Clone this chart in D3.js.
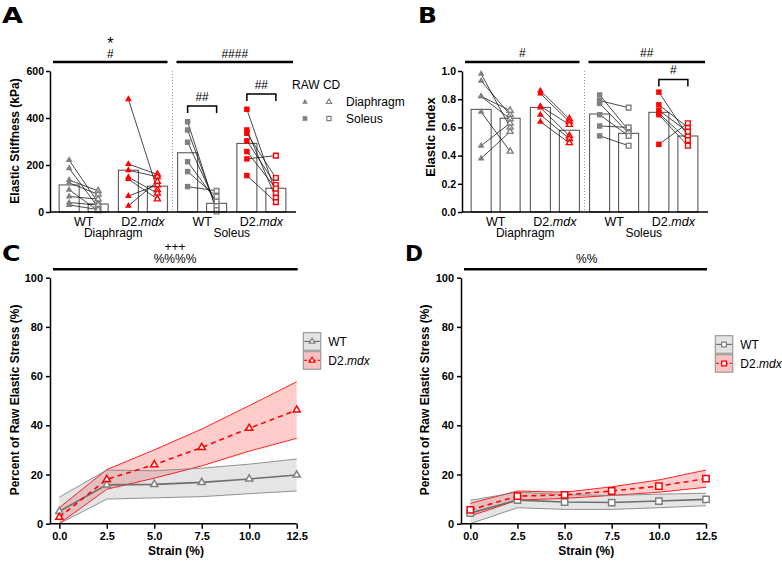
<!DOCTYPE html>
<html>
<head>
<meta charset="utf-8">
<script src="https://cdn.jsdelivr.net/npm/d3@7"></script>
<style>
  body { margin: 0; background: #fff; }
  svg text { font-family: "Liberation Sans", Arial, sans-serif; fill: #000; }
</style>
</head>
<body>
<div id="chart"></div>
<script>
// bar panels (A, B): four groups, each with a RAW and a CD bar
var groups = ["diaWT", "diaD2", "solWT", "solD2"];
var genotypes = ["WT", "D2.mdx", "WT", "D2.mdx"];
var tissues = ["Diaphragm", "Soleus"];
var conditions = ["RAW", "CD"];

// A: elastic stiffness (kPa)
var stiffTicks = [0, 200, 400, 600];
var stiffRawMeans = [115, 178, 252, 292];
var stiffCdMeans = [34, 110, 37, 101];
var stiffRaw = [
  [221, 186, 136, 124, 95, 66, 40, 30],
  [480, 204, 178, 148, 140, 68, 26],
  [384, 349, 297, 214, 172, 108],
  [437, 349, 335, 303, 257, 226, 155]
];
var stiffCd = [
  [40, 20, 90, 75, 5, 55, 30, 10],
  [95, 160, 150, 80, 55, 115, 130],
  [2, 12, 28, 45, 65, 90],
  [80, 60, 145, 115, 100, 240, 42]
];

// B: elastic index
var indexTicks = [0, 0.2, 0.4, 0.6, 0.8, 1.0];
var indexRawMeans = [0.728, 0.742, 0.695, 0.707];
var indexCdMeans = [0.665, 0.58, 0.558, 0.539];
var indexRaw = [
  [0.98, 0.93, 0.82, 0.82, 0.71, 0.47, 0.38],
  [0.86, 0.84, 0.75, 0.74, 0.69, 0.64],
  [0.83, 0.79, 0.77, 0.69, 0.61, 0.54],
  [0.85, 0.76, 0.72, 0.70, 0.69, 0.48]
];
var indexCd = [
  [0.60, 0.69, 0.72, 0.66, 0.43, 0.63, 0.57],
  [0.66, 0.64, 0.62, 0.54, 0.52, 0.49],
  [0.58, 0.74, 0.56, 0.54, 0.60, 0.47],
  [0.54, 0.60, 0.57, 0.51, 0.47, 0.63]
];

// C, D: percent of raw elastic stress vs strain
var strain = [0, 2.5, 5, 7.5, 10, 12.5];
var pctTicks = [0, 20, 40, 60, 80, 100];

var diaWT = [5, 15.8, 16, 16.8, 18.2, 19.8];
var diaWTHi = [10.8, 21.8, 21.5, 22.6, 24.2, 26.3];
var diaWTLo = [0, 10, 10.5, 11, 12.2, 13.3];
var diaD2 = [2.6, 18, 24, 31, 38.8, 46.2];
var diaD2Hi = [6.5, 22, 30, 38.5, 48, 57.7];
var diaD2Lo = [0, 14, 18.5, 23.5, 29.5, 34.7];

var solWT = [4.3, 9.6, 8.8, 8.6, 9.2, 9.9];
var solWTHi = [9.5, 12.8, 11.8, 11.5, 12, 12.4];
var solWTLo = [0, 6.5, 5.8, 5.8, 6.5, 7.3];
var solD2 = [5.6, 11.2, 11.7, 13.3, 15.3, 18.3];
var solD2Hi = [8.3, 13.3, 12.8, 15, 17.8, 21.8];
var solD2Lo = [3.1, 9.6, 10.3, 11.5, 12.8, 14.8];

var grey = "#808080", red = "#ff0000";
var groupColors = [grey, red, grey, red];

var svg = d3.select("#chart").append("svg")
  .attr("width", 782)
  .attr("height", 562);

function mdx(sel, label) {
  if (label === "D2.mdx") {
    sel.append("tspan").text("D2.");
    sel.append("tspan").attr("font-style", "italic").text("mdx");
  } else {
    sel.text(label);
  }
}

function panelLetter(txt, x, y, w) {
  svg.append("text")
    .attr("x", x).attr("y", y)
    .attr("font-size", 22).attr("font-weight", "bold")
    .style("font-family", "'DejaVu Sans', sans-serif")
    .attr("textLength", w).attr("lengthAdjust", "spacingAndGlyphs")
    .text(txt);
}

function sigText(x, y, txt, size) {
  svg.append("text")
    .attr("x", x).attr("y", y)
    .attr("text-anchor", "middle")
    .attr("font-size", size || 12)
    .text(txt);
}

function sigBar(x1, x2, y) {
  svg.append("line")
    .attr("x1", x1).attr("x2", x2).attr("y1", y).attr("y2", y)
    .attr("stroke", "#000").attr("stroke-width", 2.6);
}

function bracket(x1, x2, y) {
  svg.append("path")
    .attr("d", "M" + x1 + "," + (y + 7) + "V" + y + "H" + x2 + "V" + (y + 7))
    .attr("fill", "none").attr("stroke", "#000").attr("stroke-width", 1.5);
}

function styleAxis(g, size) {
  g.select(".domain").attr("stroke", "#000").attr("stroke-width", 1.5);
  g.selectAll(".tick line").attr("stroke", "#000").attr("stroke-width", 1.5);
  g.selectAll(".tick text")
    .attr("font-size", size).attr("font-weight", "bold")
    .attr("font-family", "Liberation Sans, Arial, sans-serif")
    .attr("fill", "#000");
}

// ---------- bar + paired points panels ----------
function barPanel(p) {
  var y = d3.scaleLinear().domain([0, p.max]).range([212, 71]);
  var outer = d3.scaleBand().domain(groups).range([p.ax0 + 4, p.ax0 + 241]);
  var inner = d3.scaleBand().domain(conditions).range([-24.5, 24.5]).paddingInner(0.31);

  function cx(gi, c) {
    return outer(groups[gi]) + outer.bandwidth() / 2 + inner(c) + inner.bandwidth() / 2;
  }

  // separator between tissues
  var sepX = (cx(1, "CD") + cx(2, "RAW")) / 2;
  svg.append("line")
    .attr("x1", sepX).attr("x2", sepX).attr("y1", 71).attr("y2", 212)
    .attr("stroke", "#999").attr("stroke-width", 1).attr("stroke-dasharray", "1,2");

  // bars
  groups.forEach(function(gname, gi) {
    [[ "RAW", p.rawMeans[gi] ], [ "CD", p.cdMeans[gi] ]].forEach(function(b) {
      svg.append("rect")
        .attr("x", cx(gi, b[0]) - inner.bandwidth() / 2)
        .attr("y", y(b[1]))
        .attr("width", inner.bandwidth())
        .attr("height", 212 - y(b[1]))
        .attr("fill", "#fff")
        .attr("stroke", "#4a4a4a")
        .attr("stroke-width", 1);
    });
  });

  // paired lines
  groups.forEach(function(gname, gi) {
    svg.append("g").selectAll("line")
      .data(p.raw[gi])
      .enter()
      .append("line")
      .attr("x1", cx(gi, "RAW"))
      .attr("y1", function(d) { return y(d); })
      .attr("x2", cx(gi, "CD"))
      .attr("y2", function(d, i) { return y(p.cd[gi][i]); })
      .attr("stroke", "#1a1a1a")
      .attr("stroke-width", 0.8);
  });

  // markers
  groups.forEach(function(gname, gi) {
    var tri = gi < 2;
    var filled = d3.symbol().type(tri ? d3.symbolTriangle : d3.symbolSquare).size(tri ? 20 : 30);
    var hollow = d3.symbol().type(tri ? d3.symbolTriangle : d3.symbolSquare).size(tri ? 16 : 22);
    svg.append("g").selectAll("path")
      .data(p.raw[gi])
      .enter()
      .append("path")
      .attr("d", filled)
      .attr("transform", function(d) { return "translate(" + cx(gi, "RAW") + "," + y(d) + ")"; })
      .attr("fill", groupColors[gi]);
    svg.append("g").selectAll("path")
      .data(p.cd[gi])
      .enter()
      .append("path")
      .attr("d", hollow)
      .attr("transform", function(d) { return "translate(" + cx(gi, "CD") + "," + y(d) + ")"; })
      .attr("fill", "#fff")
      .attr("stroke", groupColors[gi])
      .attr("stroke-width", 1.4);
  });

  // axes
  var ya = svg.append("g")
    .attr("transform", "translate(" + p.ax0 + ",0)")
    .call(d3.axisLeft(y).tickValues(p.ticks).tickFormat(p.fmt).tickSize(4).tickSizeOuter(0).tickPadding(2));
  styleAxis(ya, 10.5);
  svg.append("line")
    .attr("x1", p.ax0).attr("x2", p.ax0 + 246).attr("y1", 212).attr("y2", 212)
    .attr("stroke", "#000").attr("stroke-width", 1.5);

  // category labels
  groups.forEach(function(gname, gi) {
    svg.append("text")
      .attr("x", outer(gname) + outer.bandwidth() / 2)
      .attr("y", 225.5)
      .attr("text-anchor", "middle")
      .attr("font-size", 12.5)
      .call(mdx, genotypes[gi]);
  });
  tissues.forEach(function(t, ti) {
    var a = outer(groups[ti * 2]), b = outer(groups[ti * 2 + 1]);
    svg.append("text")
      .attr("x", (a + b) / 2 + outer.bandwidth() / 2)
      .attr("y", 236.5)
      .attr("text-anchor", "middle")
      .attr("font-size", 12)
      .text(t);
  });

  // y title
  svg.append("text")
    .attr("transform", "translate(" + p.titleX + "," + p.titleY + ") rotate(-90)")
    .attr("text-anchor", "middle")
    .attr("dy", "0.35em")
    .attr("font-size", p.titleSize)
    .attr("font-weight", "bold")
    .text(p.title);

  // significance bars over each tissue
  sigBar(p.ax0 + 3, sepX - 5, 62);
  sigBar(sepX + 4, p.ax0 + 243, 62);

  return { cx: cx, sepX: sepX };
}

// ---------- A ----------
panelLetter("A", 2, 23, 21);
var pa = barPanel({
  ax0: 50, max: 600, ticks: stiffTicks, fmt: d3.format("d"),
  rawMeans: stiffRawMeans, cdMeans: stiffCdMeans, raw: stiffRaw, cd: stiffCd,
  title: "Elastic Stiffness (kPa)", titleX: 15, titleY: 141, titleSize: 12
});
sigText((50 + 3 + pa.sepX - 5) / 2, 48.5, "*", 16);
sigText((50 + 3 + pa.sepX - 5) / 2, 57.5, "#");
sigText((pa.sepX + 4 + 50 + 243) / 2, 57.5, "####");
bracket(pa.cx(2, "RAW"), pa.cx(2, "CD"), 106);
sigText((pa.cx(2, "RAW") + pa.cx(2, "CD")) / 2, 100.5, "##");
bracket(pa.cx(3, "RAW"), pa.cx(3, "CD"), 94);
sigText((pa.cx(3, "RAW") + pa.cx(3, "CD")) / 2, 88.5, "##");

// legend for A
var lg = svg.append("g").attr("font-size", 12);
lg.append("text").attr("x", 292).attr("y", 89).text("RAW CD");
lg.append("path").attr("d", d3.symbol().type(d3.symbolTriangle).size(14))
  .attr("transform", "translate(305,102)").attr("fill", grey);
lg.append("path").attr("d", d3.symbol().type(d3.symbolTriangle).size(12))
  .attr("transform", "translate(329,102)").attr("fill", "#fff").attr("stroke", grey).attr("stroke-width", 1.2);
lg.append("text").attr("x", 346).attr("y", 105.5).text("Diaphragm");
lg.append("path").attr("d", d3.symbol().type(d3.symbolSquare).size(22))
  .attr("transform", "translate(305,118.5)").attr("fill", grey);
lg.append("path").attr("d", d3.symbol().type(d3.symbolSquare).size(18))
  .attr("transform", "translate(329,118.5)").attr("fill", "#fff").attr("stroke", grey).attr("stroke-width", 1.2);
lg.append("text").attr("x", 346).attr("y", 122.5).text("Soleus");

// ---------- B ----------
panelLetter("B", 418, 23, 19);
var pb = barPanel({
  ax0: 462, max: 1.0, ticks: indexTicks, fmt: d3.format(".1f"),
  rawMeans: indexRawMeans, cdMeans: indexCdMeans, raw: indexRaw, cd: indexCd,
  title: "Elastic Index", titleX: 430, titleY: 137, titleSize: 13
});
sigText((462 + 3 + pb.sepX - 5) / 2, 57, "#");
sigText((pb.sepX + 4 + 462 + 243) / 2, 57, "##");
bracket(pb.cx(3, "RAW"), pb.cx(3, "CD"), 79.5);
sigText((pb.cx(3, "RAW") + pb.cx(3, "CD")) / 2, 74, "#");

// ---------- line panels ----------
function linePanel(p) {
  var x = d3.scaleLinear().domain([0, 12.5]).range([p.x0, p.x1]);
  var y = d3.scaleLinear().domain([0, 100]).range([523.7, 277.7]);
  var sym = d3.symbol().type(p.marker).size(p.marker === d3.symbolSquare ? 40 : 22);

  var area = d3.area()
    .x(function(d, i) { return x(strain[i]); })
    .y0(function(d) { return y(d[0]); })
    .y1(function(d) { return y(d[1]); });
  var line = d3.line()
    .x(function(d, i) { return x(strain[i]); })
    .y(function(d) { return y(d); });

  var series = [
    { mean: p.d2, hi: p.d2Hi, lo: p.d2Lo, col: red, fill: "#ff0000", op: 0.2, lineCol: red, dash: "5,4" },
    { mean: p.wt, hi: p.wtHi, lo: p.wtLo, col: grey, fill: "#9a9a9a", op: 0.26, lineCol: "#6e6e6e", dash: null }
  ];

  series.forEach(function(s) {
    svg.append("path")
      .attr("d", area(s.lo.map(function(v, i) { return [v, s.hi[i]]; })))
      .attr("fill", s.fill).attr("fill-opacity", s.op);
  });
  series.forEach(function(s) {
    [s.hi, s.lo].forEach(function(arr) {
      svg.append("path").attr("d", line(arr))
        .attr("fill", "none").attr("stroke", s.col).attr("stroke-width", 1).attr("stroke-opacity", 0.85);
    });
  });
  series.slice().reverse().forEach(function(s) {
    svg.append("path").attr("d", line(s.mean))
      .attr("fill", "none").attr("stroke", s.lineCol).attr("stroke-width", 1.6)
      .attr("stroke-dasharray", s.dash);
  });
  series.slice().reverse().forEach(function(s) {
    svg.append("g").selectAll("path")
      .data(s.mean)
      .enter()
      .append("path")
      .attr("d", sym)
      .attr("transform", function(d, i) { return "translate(" + x(strain[i]) + "," + y(d) + ")"; })
      .attr("fill", "#fff").attr("stroke", s.col).attr("stroke-width", 1.5);
  });

  // axes
  var ya = svg.append("g")
    .attr("transform", "translate(" + p.ax0 + ",0)")
    .call(d3.axisLeft(y).tickValues(pctTicks).tickSize(4).tickSizeOuter(0).tickPadding(3));
  styleAxis(ya, 11);
  var xa = svg.append("g")
    .attr("transform", "translate(0,523.7)")
    .call(d3.axisBottom(x).tickValues(strain).tickFormat(d3.format(".1f")).tickSize(5).tickSizeOuter(0).tickPadding(4));
  styleAxis(xa, 11);
  xa.select(".domain").remove();
  svg.append("line")
    .attr("x1", p.ax0).attr("x2", p.x1).attr("y1", 523.7).attr("y2", 523.7)
    .attr("stroke", "#000").attr("stroke-width", 1.5);

  // titles
  svg.append("text")
    .attr("x", (p.x0 + p.x1) / 2 - 2).attr("y", 555)
    .attr("text-anchor", "middle").attr("font-size", 12).attr("font-weight", "bold")
    .text("Strain (%)");
  svg.append("text")
    .attr("transform", "translate(" + p.titleX + ",400) rotate(-90)")
    .attr("text-anchor", "middle").attr("dy", "0.35em")
    .attr("font-size", 12).attr("font-weight", "bold")
    .text("Percent of Raw Elastic Stress (%)");

  // significance bar
  sigBar(p.ax0 + 3, p.x1 + 1, 269.3);

  // legend
  var lsym = d3.symbol().type(p.marker).size(p.marker === d3.symbolSquare ? 22 : 13);
  [["WT", "#e3e3e3", grey, "#6e6e6e", null], ["D2.mdx", "#f9c2c2", red, red, "2.5,2"]].forEach(function(l, i) {
    var by = p.legY + i * 19;
    svg.append("rect")
      .attr("x", p.legX).attr("y", by).attr("width", 17.5).attr("height", 17.5)
      .attr("fill", l[1]).attr("stroke", "#8a8a8a").attr("stroke-width", 1);
    svg.append("line")
      .attr("x1", p.legX + 1).attr("x2", p.legX + 16.5).attr("y1", by + 8.75).attr("y2", by + 8.75)
      .attr("stroke", l[3]).attr("stroke-width", 1.2).attr("stroke-dasharray", l[4]);
    svg.append("path").attr("d", lsym)
      .attr("transform", "translate(" + (p.legX + 8.75) + "," + (by + 8.75) + ")")
      .attr("fill", "#fff").attr("stroke", l[2]).attr("stroke-width", 1.3);
    svg.append("text")
      .attr("x", p.legX + 25).attr("y", by + 13.3)
      .attr("font-size", 12)
      .call(mdx, l[0]);
  });
}

// ---------- C ----------
panelLetter("C", 2, 261, 18.5);
linePanel({
  ax0: 50, x0: 59.3, x1: 296.7, marker: d3.symbolTriangle,
  wt: diaWT, wtHi: diaWTHi, wtLo: diaWTLo, d2: diaD2, d2Hi: diaD2Hi, d2Lo: diaD2Lo,
  titleX: 15, legX: 303.3, legY: 332.7
});
sigText(175, 250.5, "+++");
sigText(175, 263, "%%%%");

// ---------- D ----------
panelLetter("D", 405, 261, 18);
linePanel({
  ax0: 461, x0: 470.3, x1: 706, marker: d3.symbolSquare,
  wt: solWT, wtHi: solWTHi, wtLo: solWTLo, d2: solD2, d2Hi: solD2Hi, d2Lo: solD2Lo,
  titleX: 425, legX: 715.3, legY: 335.7
});
sigText(586.7, 263, "%%");
</script>
</body>
</html>
